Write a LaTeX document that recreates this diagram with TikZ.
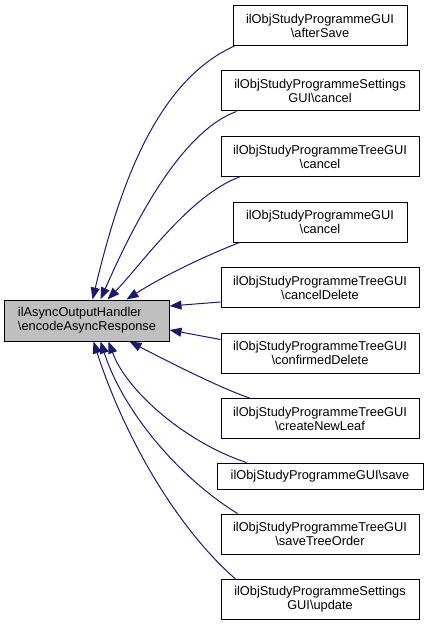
\documentclass[tikz,border=0pt]{standalone}
\usepackage{fontspec}
\setmainfont{Liberation Sans}
\usetikzlibrary{arrows.meta}
\definecolor{edgeblue}{RGB}{25,25,112}
\definecolor{boxgray}{RGB}{191,191,191}
\begin{document}
\begin{tikzpicture}[x=1bp,y=-1bp,
 box/.style={draw=black,line width=1bp,inner sep=0pt,font=\fontsize{12.8bp}{14bp}\selectfont,align=center,minimum height=40bp},
 wide/.style={box,minimum width=198bp},
 narrow/.style={box,minimum width=174bp},
 single/.style={box,minimum width=206bp,minimum height=26bp},
 edge/.style={draw=edgeblue,line width=1bp,-{Triangle[length=12bp,width=9bp]}}]
\useasboundingbox (0,0) rectangle (428,627);
\node[box,fill=boxgray,minimum width=164bp,minimum height=41bp,align=left] (L) at (87,320.5) {ilAsyncOutputHandler\\\textbackslash encodeAsyncResponse};
\node[narrow] (r1) at (320,25.5) {ilObjStudyProgrammeGUI\\\textbackslash afterSave};
\node[wide] (r2) at (320,91) {ilObjStudyProgrammeSettings\\GUI\textbackslash cancel};
\node[wide] (r3) at (320,156.5) {ilObjStudyProgrammeTreeGUI\\\textbackslash cancel};
\node[narrow] (r4) at (320,222) {ilObjStudyProgrammeGUI\\\textbackslash cancel};
\node[wide] (r5) at (320,287.5) {ilObjStudyProgrammeTreeGUI\\\textbackslash cancelDelete};
\node[wide] (r6) at (320,353) {ilObjStudyProgrammeTreeGUI\\\textbackslash confirmedDelete};
\node[wide] (r7) at (320,418.5) {ilObjStudyProgrammeTreeGUI\\\textbackslash createNewLeaf};
\node[single] (r8) at (320,476) {ilObjStudyProgrammeGUI\textbackslash save};
\node[wide] (r9) at (320,534) {ilObjStudyProgrammeTreeGUI\\\textbackslash saveTreeOrder};
\node[wide] (r10) at (320,599.5) {ilObjStudyProgrammeSettings\\GUI\textbackslash update};
\draw[edge] ([xshift=2bp]r1.south west) .. controls (154,82) and (118,193) .. ([xshift=88bp]L.north west);
\draw[edge] ([xshift=16bp]r2.south west) .. controls (177,133) and (128,237) .. ([xshift=96bp]L.north west);
\draw[edge] ([xshift=19bp]r3.south west) .. controls (190,195) and (141,265) .. ([xshift=103bp]L.north west);
\draw[edge] ([xshift=7bp]r4.south west) .. controls (200,258) and (160,278) .. ([xshift=122bp]L.north west);
\draw[edge] ([yshift=-14.5bp]r5.west) -- ([yshift=14.5bp]L.east);
\draw[edge] ([yshift=13.5bp]r6.west) -- ([yshift=-9.5bp]L.east);
\draw[edge] ([xshift=29bp]r7.north west) .. controls (220,388) and (165,360) .. ([xshift=125bp]L.south west);
\draw[edge] ([xshift=30bp]r8.north west) .. controls (187,443) and (127,392) .. ([xshift=104bp]L.south west);
\draw[edge] ([xshift=17bp]r9.north west) .. controls (183,480) and (125,416) .. ([xshift=96bp]L.south west);
\draw[edge] ([xshift=15bp]r10.north west) .. controls (176,527) and (124,436) .. ([xshift=89bp]L.south west);
\end{tikzpicture}
\end{document}
